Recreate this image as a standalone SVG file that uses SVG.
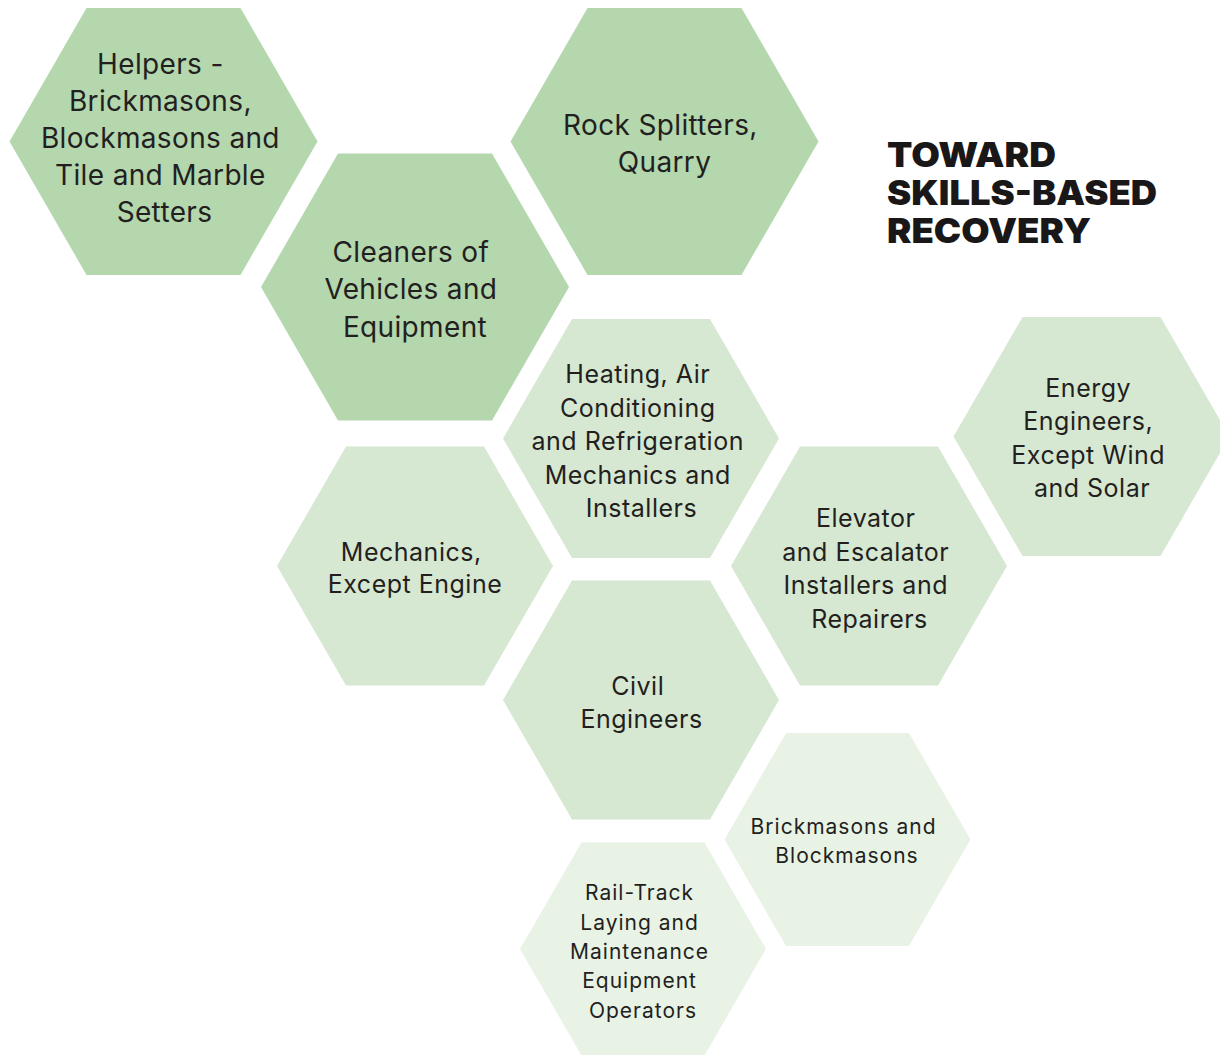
<svg xmlns="http://www.w3.org/2000/svg" width="1220" height="1055" viewBox="0 0 1220 1055">
  <defs>
    <style>
      .lab { font-family: Inter, "Liberation Sans", Arial, sans-serif; fill: #231f20; text-anchor: middle; }
      .big { font-size: 28px; letter-spacing: 0.35px; }
      .mid { font-size: 25px; letter-spacing: 0.5px; }
      .sml { font-size: 21px; letter-spacing: 1px; }
      .c1 { fill: #b4d7ae; }
      .c2 { fill: #d6e8d2; }
      .c3 { fill: #e8f3e6; }
      .title { font-family: Inter, "Liberation Sans", Arial, sans-serif; font-weight: 900; font-size: 34px; fill: #1a1718; }
    </style>
    <!-- flat-topped regular hexagons centred on the origin -->
    <polygon id="hexL" points="-77,-133.4 77,-133.4 154,0 77,133.4 -77,133.4 -154,0"/>
    <polygon id="hexM" points="-69,-119.5 69,-119.5 138,0 69,119.5 -69,119.5 -138,0"/>
    <polygon id="hexS" points="-61.5,-106.5 61.5,-106.5 123,0 61.5,106.5 -61.5,106.5 -123,0"/>
  </defs>

  <rect width="1220" height="1055" fill="#ffffff"/>

  <g id="connectors"/>

  <g id="node-helpers">
    <use href="#hexL" class="c1" transform="translate(163.5,141.5)"/>
    <text class="lab big">
      <tspan x="164.5" y="74">Helpers -</tspan>
      <tspan x="164.5" y="111">Brickmasons,</tspan>
      <tspan x="164.5" y="148">Blockmasons and</tspan>
      <tspan x="164.5" y="185">Tile and Marble</tspan>
      <tspan x="164.5" y="222">Setters</tspan>
    </text>
  </g>

  <g id="node-rock-splitters">
    <use href="#hexL" class="c1" transform="translate(664.5,141.5)"/>
    <text class="lab big">
      <tspan x="664.5" y="135">Rock Splitters,</tspan>
      <tspan x="664.5" y="172">Quarry</tspan>
    </text>
  </g>

  <g id="node-cleaners">
    <use href="#hexL" class="c1" transform="translate(415,287)"/>
    <text class="lab big">
      <tspan x="415" y="262">Cleaners of</tspan>
      <tspan x="415" y="299">Vehicles and</tspan>
      <tspan x="415" y="337">Equipment</tspan>
    </text>
  </g>

  <g id="node-hvac">
    <use href="#hexM" class="c2" transform="translate(641,438.5)"/>
    <text class="lab mid">
      <tspan x="641.5" y="383">Heating, Air</tspan>
      <tspan x="641.5" y="417">Conditioning</tspan>
      <tspan x="641.5" y="450">and Refrigeration</tspan>
      <tspan x="641.5" y="484">Mechanics and</tspan>
      <tspan x="641.5" y="517">Installers</tspan>
    </text>
  </g>

  <g id="node-energy">
    <use href="#hexM" class="c2" transform="translate(1091.5,436.5)"/>
    <text class="lab mid">
      <tspan x="1092" y="397">Energy</tspan>
      <tspan x="1092" y="430">Engineers,</tspan>
      <tspan x="1092" y="464">Except Wind</tspan>
      <tspan x="1092" y="497">and Solar</tspan>
    </text>
  </g>

  <g id="node-mechanics">
    <use href="#hexM" class="c2" transform="translate(415,566)"/>
    <text class="lab mid">
      <tspan x="415" y="561">Mechanics,</tspan>
      <tspan x="415" y="593">Except Engine</tspan>
    </text>
  </g>

  <g id="node-elevator">
    <use href="#hexM" class="c2" transform="translate(869,566)"/>
    <text class="lab mid">
      <tspan x="869.5" y="527">Elevator</tspan>
      <tspan x="869.5" y="561">and Escalator</tspan>
      <tspan x="869.5" y="594">Installers and</tspan>
      <tspan x="869.5" y="628">Repairers</tspan>
    </text>
  </g>

  <g id="node-civil">
    <use href="#hexM" class="c2" transform="translate(641,700)"/>
    <text class="lab mid">
      <tspan x="641.5" y="695">Civil</tspan>
      <tspan x="641.5" y="728">Engineers</tspan>
    </text>
  </g>

  <g id="node-brickmasons">
    <use href="#hexS" class="c3" transform="translate(847.5,839.5)"/>
    <text class="lab sml">
      <tspan x="847" y="834">Brickmasons and</tspan>
      <tspan x="847" y="863">Blockmasons</tspan>
    </text>
  </g>

  <g id="node-rail-track">
    <use href="#hexS" class="c3" transform="translate(643,949)"/>
    <text class="lab sml">
      <tspan x="643" y="900">Rail-Track</tspan>
      <tspan x="643" y="930">Laying and</tspan>
      <tspan x="643" y="959">Maintenance</tspan>
      <tspan x="643" y="988">Equipment</tspan>
      <tspan x="643" y="1018">Operators</tspan>
    </text>
  </g>

  <g id="title">
    <text class="title" x="887" y="167" textLength="169" lengthAdjust="spacingAndGlyphs">TOWARD</text>
    <text class="title" x="887" y="205" textLength="270" lengthAdjust="spacingAndGlyphs">SKILLS-BASED</text>
    <text class="title" x="887" y="243" textLength="204" lengthAdjust="spacingAndGlyphs">RECOVERY</text>
  </g>
</svg>
